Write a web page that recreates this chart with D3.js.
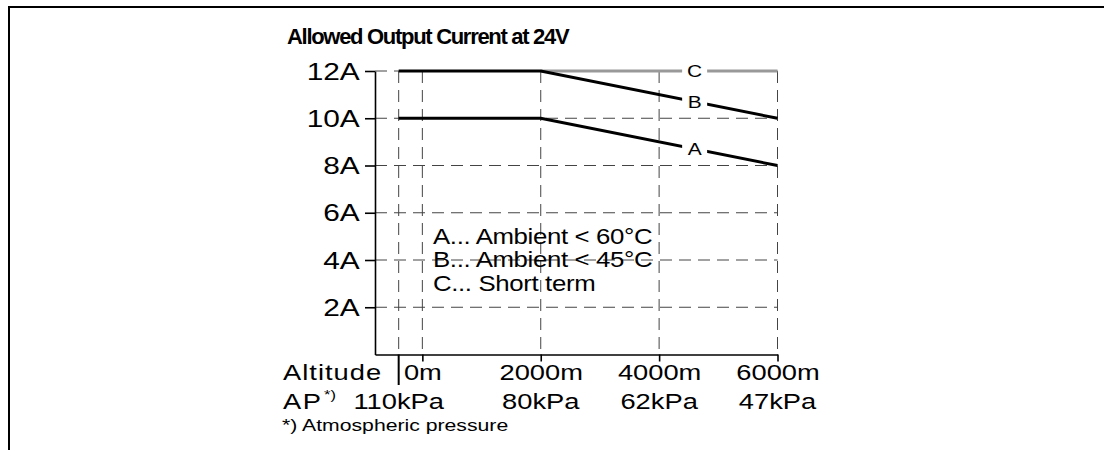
<!DOCTYPE html>
<html>
<head>
<meta charset="utf-8">
<script src="https://cdn.jsdelivr.net/npm/d3@7"></script>
<style>
  body { margin: 0; background: #fff; }
  svg { display: block; font-family: "Liberation Sans", Arial, sans-serif; }
</style>
</head>
<body>
<svg id="chart" width="1104" height="450"></svg>
<script>
// data
const currentTicks = [2, 4, 6, 8, 10, 12];
const altitudeTicks = [0, 2000, 4000, 6000];
const altitudeLabels = ["0m", "2000m", "4000m", "6000m"];
const pressurePos = [-400, 2000, 4000, 6000];
const pressureLabels = ["110kPa", "80kPa", "62kPa", "47kPa"];
const gridAltitudes = [-400, 0, 2000, 4000, 6000];

const curveAlt = [-400, 2000, 6000];
const curveA = [10, 10, 8];
const curveB = [12, 12, 10];
const curveCAlt = [2000, 6000];
const curveC = [12, 12];
const curveNames = ["A", "B", "C"];
const labelAlt = 4600;

const legendLines = ["A... Ambient < 60°C", "B... Ambient < 45°C", "C... Short term"];

const svg = d3.select("#chart");
const stretch = 1.27; // text in the picture is drawn wide

const x = d3.scaleLinear().domain([-800, 6000]).range([375, 777.5]);
const y = d3.scaleLinear().domain([0, 12]).range([354.5, 71]);

// frame
svg.append("path")
  .attr("d", "M9,450V7H1104")
  .attr("fill", "none")
  .attr("stroke", "#000")
  .attr("stroke-width", 2);

// title
svg.append("text")
  .attr("x", 287).attr("y", 44)
  .attr("font-size", 22)
  .attr("font-weight", "bold")
  .attr("letter-spacing", -1.3)
  .text("Allowed Output Current at 24V");

// grid
const grid = svg.append("g")
  .attr("stroke", "#444")
  .attr("stroke-width", 1)
  .attr("stroke-dasharray", "12,7");

grid.selectAll("line.h")
  .data(currentTicks)
  .join("line")
  .attr("class", "h")
  .attr("x1", x(-800)).attr("x2", x(6000))
  .attr("y1", d => y(d)).attr("y2", d => y(d));

grid.selectAll("line.v")
  .data(gridAltitudes)
  .join("line")
  .attr("class", "v")
  .attr("x1", d => x(d)).attr("x2", d => x(d))
  .attr("y1", y(12)).attr("y2", y(0));

// axes
const yAxis = svg.append("g")
  .attr("transform", `translate(${x(-800)},0)`)
  .call(d3.axisLeft(y).tickValues(currentTicks).tickSize(10).tickSizeOuter(0).tickFormat(d => d + "A"));

const xAxis = svg.append("g")
  .attr("transform", `translate(0,${y(0)})`)
  .call(d3.axisBottom(x).tickValues(altitudeTicks).tickSize(7).tickSizeOuter(0).tickFormat((d, i) => altitudeLabels[i]));

[yAxis, xAxis].forEach(g => {
  g.attr("font-family", null).attr("font-size", null);
  g.select(".domain").attr("stroke", "#000").attr("stroke-width", 1.6);
  g.selectAll(".tick line").attr("stroke", "#000").attr("stroke-width", 1.6);
  g.selectAll(".tick text").attr("fill", "#000").attr("font-size", 23.5);
});

yAxis.selectAll(".tick text")
  .attr("x", -12)
  .attr("dy", "0.35em")
  .attr("transform", `scale(${stretch},1)`);

xAxis.selectAll(".tick text")
  .attr("y", 25.5)
  .attr("dy", 0)
  .attr("font-size", 21.5)
  .attr("transform", `scale(${stretch},1)`);

// separator between row titles and values
svg.append("line")
  .attr("x1", x(-400)).attr("x2", x(-400))
  .attr("y1", y(0)).attr("y2", 385)
  .attr("stroke", "#000")
  .attr("stroke-width", 2);

// row titles
function wideText(px, py, size, str, spacing) {
  return svg.append("text")
    .attr("transform", `translate(${px},${py}) scale(${stretch},1)`)
    .attr("font-size", size)
    .attr("letter-spacing", spacing || 0)
    .text(str);
}
wideText(283, 380, 21.5, "Altitude", 0.8);
wideText(283, 409, 21.5, "AP", 1.2);
wideText(324, 399, 13, "*)");
wideText(282, 431, 16.7, "*) Atmospheric pressure");

// pressure row
svg.selectAll("text.ap")
  .data(pressureLabels)
  .join("text")
  .attr("class", "ap")
  .attr("text-anchor", "middle")
  .attr("font-size", 21.5)
  .attr("transform", (d, i) => `translate(${x(pressurePos[i])},409) scale(${stretch},1)`)
  .text(d => d);

// curves
const line = d3.line().x(d => x(d[0])).y(d => y(d[1]));
const curves = [
  {name: curveNames[2], pts: curveCAlt.map((a, i) => [a, curveC[i]]), color: "#999"},
  {name: curveNames[1], pts: curveAlt.map((a, i) => [a, curveB[i]]), color: "#000"},
  {name: curveNames[0], pts: curveAlt.map((a, i) => [a, curveA[i]]), color: "#000"}
];

svg.selectAll("path.curve")
  .data(curves)
  .join("path")
  .attr("class", "curve")
  .attr("fill", "none")
  .attr("stroke", d => d.color)
  .attr("stroke-width", 3)
  .attr("d", d => line(d.pts));

// curve labels sitting in a gap of the line
function valueAt(pts, a) {
  for (let i = 1; i < pts.length; i++) {
    if (a <= pts[i][0]) {
      const t = (a - pts[i - 1][0]) / (pts[i][0] - pts[i - 1][0]);
      return pts[i - 1][1] + t * (pts[i][1] - pts[i - 1][1]);
    }
  }
  return pts[pts.length - 1][1];
}

const labels = svg.selectAll("g.clabel")
  .data(curves)
  .join("g")
  .attr("class", "clabel")
  .attr("transform", d => `translate(${x(labelAlt)},${y(valueAt(d.pts, labelAlt))})`);

labels.append("rect")
  .attr("x", -12.5).attr("y", -9)
  .attr("width", 25).attr("height", 18)
  .attr("fill", "#fff");

labels.append("text")
  .attr("text-anchor", "middle")
  .attr("dy", "0.36em")
  .attr("font-size", 16.5)
  .attr("transform", `scale(${stretch},1)`)
  .text(d => d.name);

// legend
svg.selectAll("text.legend")
  .data(legendLines)
  .join("text")
  .attr("class", "legend")
  .attr("font-size", 21.5)
  .attr("letter-spacing", -0.3)
  .attr("transform", (d, i) => `translate(433,${243.5 + i * 23.5}) scale(1.2,1)`)
  .text(d => d);
</script>
</body>
</html>
